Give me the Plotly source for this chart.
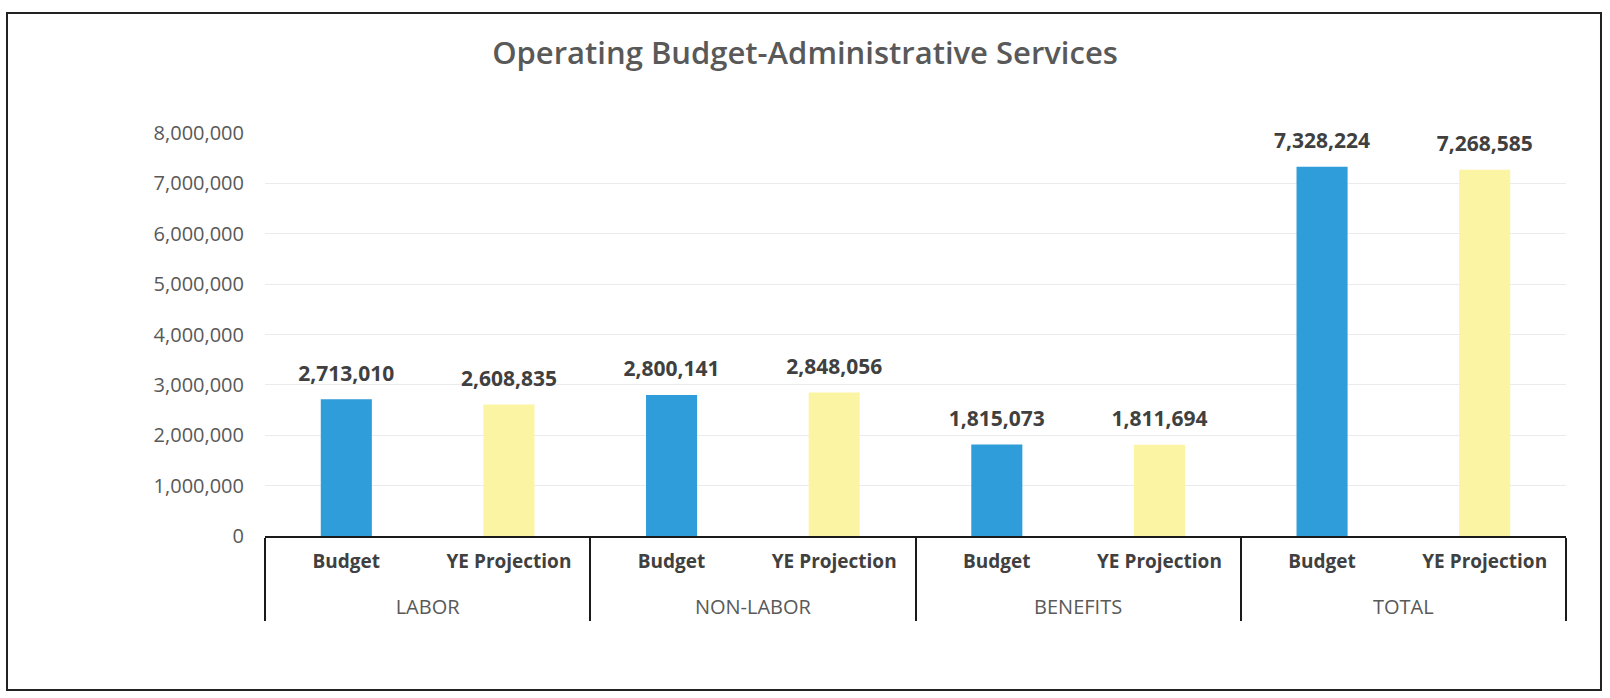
import plotly.graph_objects as go

# Spending groups and the two measures shown for each
groups = ["LABOR", "NON-LABOR", "BENEFITS", "TOTAL"]
measures = ["Budget", "YE Projection"]

budget = [2713010, 2800141, 1815073, 7328224]
ye_projection = [2608835, 2848056, 1811694, 7268585]

y_ticks = [0, 1000000, 2000000, 3000000, 4000000, 5000000, 6000000, 7000000, 8000000]

BLUE = "#2E9DDA"
YELLOW = "#FBF4A3"
FONT = "Open Sans"

# Flatten into one bar per (group, measure) pair; group names sit on a
# second line so they clear the measure labels
lvl_group, lvl_measure, values, colors = [], [], [], []
for g, b, p in zip(groups, budget, ye_projection):
    for m, v, c in ((measures[0], b, BLUE), (measures[1], p, YELLOW)):
        lvl_group.append(
            f"<br><span style='font-weight:normal;font-size:20px;color:#595959'>{g}</span>"
        )
        lvl_measure.append(f"<b>{m}</b>")
        values.append(v)
        colors.append(c)

x_multi = [lvl_group, lvl_measure]

fig = go.Figure()
fig.add_trace(go.Bar(
    x=x_multi,
    y=values,
    marker=dict(color=colors, line=dict(width=0)),
    hoverinfo="skip",
    showlegend=False,
))
# Value labels floated above each bar
fig.add_trace(go.Scatter(
    x=x_multi,
    y=values,
    mode="markers+text",
    marker=dict(size=20, opacity=0),
    text=[f"{v:,.0f}" for v in values],
    textposition="top center",
    textfont=dict(family=FONT, size=21, color="#404040", weight="bold"),
    cliponaxis=False,
    hoverinfo="skip",
    showlegend=False,
))

fig.update_layout(
    width=1610,
    height=698,
    margin=dict(l=265, r=44, t=133, b=162),
    paper_bgcolor="white",
    plot_bgcolor="white",
    bargap=0.686,
    title=dict(
        text="Operating Budget-Administrative Services",
        x=0.5, xanchor="center",
        y=1 - 53 / 698, yanchor="middle",
        font=dict(family=FONT, size=31, color="#595959", weight=600),
    ),
    font=dict(family=FONT, color="#595959"),
)

fig.update_yaxes(
    range=[0, 8000000],
    tickvals=y_ticks,
    ticktext=[f"{t:,}" for t in y_ticks],
    showgrid=True,
    gridcolor="#ebebeb",
    gridwidth=1,
    zeroline=False,
    showline=False,
    ticks="",
    ticklabelstandoff=20,
    tickfont=dict(family=FONT, size=20, color="#595959"),
)

fig.update_xaxes(
    type="multicategory",
    showline=True,
    linecolor="#1a1a1a",
    linewidth=2,
    showgrid=False,
    ticks="",
    showdividers=True,
    dividercolor="#1a1a1a",
    dividerwidth=2,
    ticklabelstandoff=7,
    tickfont=dict(family=FONT, size=19, color="#404040"),
)

# Outer frame around the whole chart
fig.add_shape(
    type="rect", xref="paper", yref="paper",
    x0=-0.1983, x1=1.0269, y0=-0.3821, y1=1.2978,
    line=dict(color="#222222", width=2),
    fillcolor="rgba(0,0,0,0)",
    layer="below",
)

fig.write_html("out.html")
